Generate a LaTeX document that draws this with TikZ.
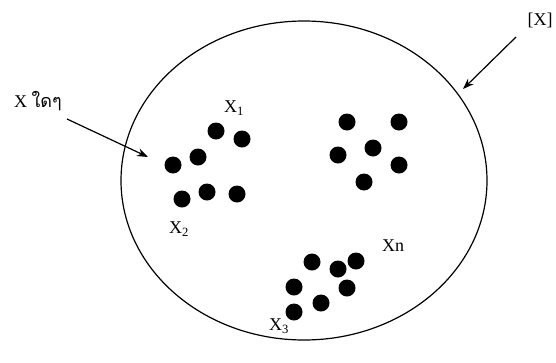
\documentclass[tikz,border=0pt]{standalone}
\usepackage{fontspec}
\setmainfont{Liberation Serif}
\newfontfamily\thaifont[Script=Thai]{Loma}
\usetikzlibrary{arrows.meta,shapes.geometric}
\begin{document}
\begin{tikzpicture}[x=1pt,y=-1pt,
  dot/.style={circle,fill=black,inner sep=0pt,minimum size=17pt},
  lbl/.style={inner sep=0pt,font=\fontsize{18}{20}\selectfont},
  arr/.style={-{Stealth[length=11pt,width=8pt]},line width=1.2pt}]
\useasboundingbox (0,0) rectangle (556,362);
\node[draw,ellipse,line width=1.2pt,minimum width=366pt,minimum height=319pt,inner sep=0pt] (set) at (304,180.5) {};
% cluster 1
\node[dot] (a1) at (216,131) {};
\node[dot] (a2) at (242,139) {};
\node[dot] (a3) at (198,157) {};
\node[dot] (a4) at (173,165) {};
\node[dot] (a5) at (182,199) {};
\node[dot] (a6) at (207,192) {};
\node[dot] (a7) at (237,194) {};
% cluster 2
\node[dot] (b1) at (347,122) {};
\node[dot] (b2) at (399,122) {};
\node[dot] (b3) at (373,148) {};
\node[dot] (b4) at (338,155) {};
\node[dot] (b5) at (399,165) {};
\node[dot] (b6) at (364,182) {};
% cluster 3
\node[dot] (c1) at (312,262) {};
\node[dot] (c2) at (356,261) {};
\node[dot] (c3) at (338,269) {};
\node[dot] (c4) at (294,287) {};
\node[dot] (c5) at (347,288) {};
\node[dot] (c6) at (321,303) {};
\node[dot] (c7) at (294,312) {};
% labels
\node[lbl] (x1) at (234,108) {X\textsubscript{1}};
\node[lbl] (x2) at (179,229) {X\textsubscript{2}};
\node[lbl] (xn) at (393,246) {Xn};
\node[lbl] (x3) at (279,326) {X\textsubscript{3}};
\node[lbl,anchor=west] (xany) at (14,101) {X {\thaifont ใดๆ}};
\node[lbl] (xset) at (540,20) {[X]};
% arrows
\coordinate (s1) at (67,119);
\coordinate (e1) at (148,157);
\draw[arr] (s1) -- (e1);
\coordinate (s2) at (516,37);
\coordinate (e2) at (463,89);
\draw[arr] (s2) -- (e2);
\end{tikzpicture}
\end{document}
